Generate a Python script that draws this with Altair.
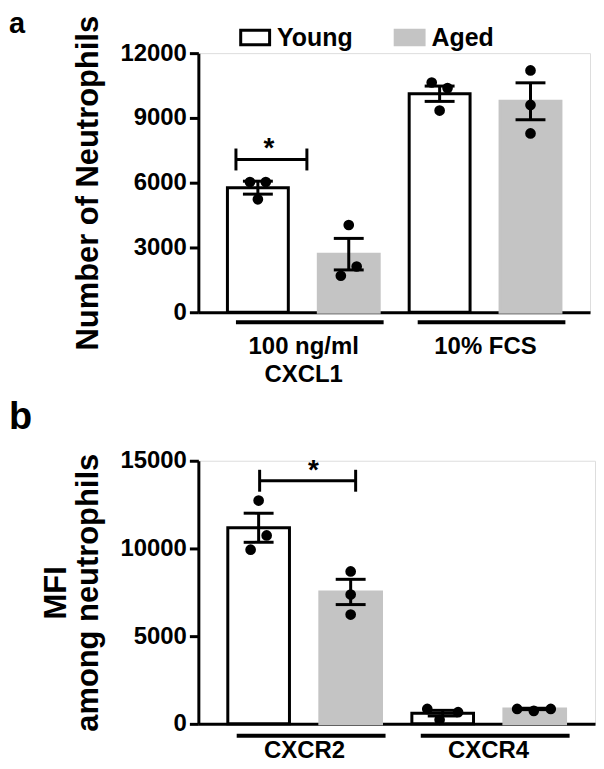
import altair as alt
import pandas as pd

FONT = "Liberation Sans"
AGES = ["Young", "Aged"]
FILL = ["#ffffff", "#c4c4c4"]
STROKE = ["#000000", "#c4c4c4"]

# ---------------- panel a data ----------------
a_groups = ["100 ng/ml|CXCL1", "10% FCS"]
a_mean = [5770, 2690, 10120, 9770]
a_sem = [300, 730, 355, 855]
a_points = [[6030, 6030, 5230], [4040, 2120, 1690], [10640, 10380, 9340], [11200, 9600, 8280]]
a_jitter = [[-0.26, 0.26, 0.0], [0.0, 0.26, -0.26], [-0.26, 0.26, 0.0], [0.0, 0.0, 0.0]]
a_ticks = [0, 3000, 6000, 9000, 12000]
a_sig_y = 7075
a_sig_label = "*"

# ---------------- panel b data ----------------
b_groups = ["CXCR2", "CXCR4"]
b_mean = [11180, 7520, 610, 850]
b_sem = [830, 720, 160, 40]
b_points = [[12730, 10740, 9930], [8690, 7370, 6230], [850, 230, 665], [850, 740, 850]]
b_jitter = [[0.0, 0.26, -0.26], [0.0, 0.0, 0.0], [-0.5, -0.1, 0.5], [-0.57, -0.03, 0.52]]
b_ticks = [0, 5000, 10000, 15000]
b_sig_y = 13860
b_sig_label = "*"


def panel(groups, mean, sem, points, jitter, ticks, sig_y, sig_label, ytitle,
          letter, letter_size, letter_dy, width, height, legend_xy, under_y,
          sig_dx, label_pad):
    cats = [f"{g}::{a}" for g in groups for a in AGES]
    ages = [a for g in groups for a in AGES]
    bars_df = pd.DataFrame({"cat": cats, "age": ages, "mean": mean, "sem": sem})
    pts_rows = []
    for c, vals, jits in zip(cats, points, jitter):
        for v, j in zip(vals, jits):
            pts_rows.append({"cat": c, "value": v, "jit": j})
    pts_df = pd.DataFrame(pts_rows)
    under_df = pd.DataFrame({"cat": cats[0::2], "cat2": cats[1::2]})
    sig_df = pd.DataFrame({"cat": [cats[0]], "cat2": [cats[1]], "y": [sig_y],
                           "label": [sig_label]})

    xscale = alt.Scale(domain=cats, paddingInner=0.33, paddingOuter=0.32)
    xaxis = alt.Axis(
        title=None, labelAngle=0, ticks=False, tickSize=0,
        labelExpr="indexof(datum.value, '::Young') >= 0 ? split(replace(datum.value, '::Young', ''), '|') : ''",
        labelOffset=46, labelPadding=label_pad, labelFont=FONT, labelFontSize=24,
        labelFontWeight="bold", labelColor="black", labelLineHeight=28,
        labelBaseline="top", labelOverlap=False, domainColor="black",
        domainWidth=3, grid=False,
    )
    yscale = alt.Scale(domain=[0, ticks[-1]], nice=False)
    yaxis = alt.Axis(
        values=ticks, format="d", title=ytitle, titleFont=FONT, titleFontSize=31,
        titleFontWeight="bold", titleColor="black", titlePadding=15,
        titleLineHeight=33, labelFont=FONT, labelFontSize=24,
        labelFontWeight="bold", labelColor="black", labelPadding=3,
        tickSize=9, tickWidth=3, tickColor="black", domainColor="black",
        domainWidth=3, grid=False,
    )

    def X(f):
        return alt.X(f"{f}:N", scale=xscale, axis=xaxis)

    def Y(f):
        return alt.Y(f"{f}:Q", scale=yscale, axis=yaxis)

    legend = alt.Legend(
        orient="none", legendX=legend_xy[0], legendY=legend_xy[1],
        direction="horizontal", title=None, symbolType="M-1,-0.5H1V0.5H-1Z",
        symbolSize=841, symbolStrokeWidth=3, symbolOpacity=1,
        labelFont=FONT, labelFontSize=25, labelFontWeight="bold",
        labelColor="black", labelOffset=6, columnPadding=36, padding=0,
    )
    fill = alt.Fill("age:N", scale=alt.Scale(domain=AGES, range=FILL), legend=legend)
    stroke = alt.Stroke("age:N", scale=alt.Scale(domain=AGES, range=STROKE), legend=legend)

    base = alt.Chart(bars_df)
    bar = base.mark_bar(strokeWidth=3, opacity=1).encode(
        x=X("cat"), y=Y("mean"), fill=fill, stroke=stroke)
    under = alt.Chart(under_df).mark_rule(
        strokeWidth=4, color="black", xOffset=-22, x2Offset=35
    ).encode(x=X("cat"), x2=alt.X2("cat2"), y=alt.value(height + under_y))
    eb = base.transform_calculate(
        lo="datum.mean - datum.sem", hi="datum.mean + datum.sem")
    err = eb.mark_rule(strokeWidth=3, color="black").encode(
        x=X("cat"), y=Y("lo"), y2=alt.Y2("hi"))
    cap_hi = eb.mark_tick(size=30, thickness=3, color="black", opacity=1).encode(
        x=X("cat"), y=Y("hi"))
    cap_lo = eb.mark_tick(size=30, thickness=3, color="black", opacity=1).encode(
        x=X("cat"), y=Y("lo"))
    pts = alt.Chart(pts_df).mark_circle(size=115, color="black", opacity=1).encode(
        x=X("cat"),
        xOffset=alt.XOffset("jit:Q", scale=alt.Scale(domain=[-1, 1])),
        y=Y("value"))
    sig = alt.Chart(sig_df)
    sig_line = sig.mark_rule(strokeWidth=3, color="black",
                             xOffset=sig_dx[0], x2Offset=sig_dx[1]).encode(
        x=X("cat"), x2=alt.X2("cat2"), y=Y("y"))
    sig_end1 = sig.mark_tick(orient="vertical", size=22, thickness=3,
                             color="black", opacity=1, xOffset=sig_dx[0]).encode(
        x=X("cat"), y=Y("y"))
    sig_end2 = sig.mark_tick(orient="vertical", size=22, thickness=3,
                             color="black", opacity=1, xOffset=sig_dx[1]).encode(
        x=X("cat2"), y=Y("y"))
    star = sig.mark_text(font=FONT, fontSize=28, fontWeight="bold", color="black",
                         baseline="bottom", dx=sig_dx[2], dy=4).encode(
        x=X("cat"), y=Y("y"), text="label:N")

    return alt.layer(bar, under, err, cap_hi, cap_lo, pts, sig_line, sig_end1,
                     sig_end2, star).resolve_scale(xOffset="independent").properties(
        width=width, height=height,
        title=alt.TitleParams(letter, anchor="start", frame="group", dx=-190,
                              dy=letter_dy, offset=0, font=FONT,
                              fontSize=letter_size, fontWeight="bold",
                              color="black"),
    )


pa = panel(a_groups, a_mean, a_sem, a_points, a_jitter, a_ticks, a_sig_y,
           a_sig_label, "Number of Neutrophils", "a", 29, 24, 393, 260,
           (41, -32), 10, (-22, -42, 11), 22)
pb = panel(b_groups, b_mean, b_sem, b_points, b_jitter, b_ticks, b_sig_y,
           b_sig_label, ["MFI", "among neutrophils"], "b", 38, -12, 398, 264,
           (47, -31), 12, (1, 5, 55), 15)

chart = alt.vconcat(pa, pb, spacing=11).configure_view(stroke=None).configure(
    padding={"left": 0, "top": 0, "right": 0, "bottom": 0}, font=FONT)

chart.save("out.html", embed_options={"renderer": "svg", "actions": False})
